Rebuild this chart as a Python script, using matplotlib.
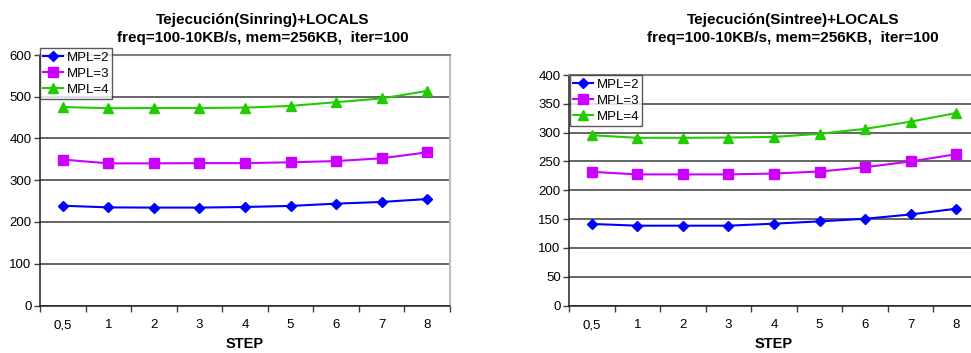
import matplotlib.pyplot as plt

plt.rcParams['font.family'] = ['Liberation Sans', 'DejaVu Sans']

# Step values on the x axis (category axis)
steps = ['0,5', '1', '2', '3', '4', '5', '6', '7', '8']
series_names = ['MPL=2', 'MPL=3', 'MPL=4']

# Tejecucion with Sinring
ring_mpl2 = [239, 235, 234.5, 234.5, 236, 238.5, 244, 248, 255]
ring_mpl3 = [349.5, 340.5, 340.5, 341, 341, 343, 346, 352.5, 367]
ring_mpl4 = [475.5, 472.5, 473, 473, 474, 478, 487, 496, 514]

# Tejecucion with Sintree
tree_mpl2 = [141.5, 138.5, 138.5, 138.5, 142, 146, 150.5, 158, 168]
tree_mpl3 = [232, 227.5, 227.5, 227.5, 229, 232.5, 240, 250, 262.5]
tree_mpl4 = [295.5, 291, 291, 291.5, 292.5, 298, 306.5, 319, 334]

colors = ['#0000FF', '#CC00FF', '#22CC00']
markers = ['D', 's', '^']
msizes = [5, 7, 7.5]

W, H = 971, 353
fig = plt.figure(figsize=(W / 100, H / 100), dpi=100)


def draw_panel(ax_rect, series, ymax, ystep, title, title_x, legend_box, step_x):
	ax = fig.add_axes(ax_rect)
	x = list(range(len(steps)))
	lines = []
	for vals, c, m, ms in zip(series, colors, markers, msizes):
		ln, = ax.plot(x, vals, color=c, marker=m, markersize=ms, linewidth=1.5,
			markeredgecolor=c, clip_on=False, zorder=3)
		lines.append(ln)
	ax.set_xlim(-0.5, len(steps) - 0.5)
	ax.set_ylim(0, ymax)
	ax.set_yticks(range(0, ymax + 1, ystep))
	ax.set_xticks(x)
	ax.set_xticklabels(steps)
	# tick marks sit between the categories
	ax.set_xticks([i - 0.5 for i in range(len(steps) + 1)], minor=True)
	ax.tick_params(axis='x', which='major', length=0, pad=10, labelsize=9.5)
	ax.tick_params(axis='x', which='minor', length=4, width=1, color='#404040')
	ax.tick_params(axis='y', length=4, width=1, color='#404040', labelsize=9.5, pad=2)
	ax.yaxis.grid(True, color='#3a3a3a', linewidth=1.1)
	ax.set_axisbelow(True)
	ax.spines['right'].set_color('#b8c0c0')
	ax.spines['top'].set_color('#808080')
	for s in ['top', 'right']:
		ax.spines[s].set_linewidth(1.5)
	for s in ['left', 'bottom']:
		ax.spines[s].set_color('#202020')
		ax.spines[s].set_linewidth(1.1)
	fig.text(title_x, 1 - 29 / H, title, ha='center', va='center',
		fontsize=11, fontweight='bold', linespacing=1.3)
	fig.text(step_x, 1 - 344 / H, 'STEP', ha='center', va='center',
		fontsize=10.5, fontweight='bold')
	leg = fig.legend(lines, series_names, loc='upper left',
		bbox_to_anchor=legend_box, bbox_transform=fig.transFigure,
		frameon=True, fancybox=False, fontsize=9.5, handlelength=1.5,
		handletextpad=0.25, borderpad=0.25, labelspacing=0.3,
		borderaxespad=0)
	leg.get_frame().set_edgecolor('#303030')
	leg.get_frame().set_linewidth(1.0)
	return ax


ring_title = 'Tejecución(Sinring)+LOCALS\nfreq=100-10KB/s, mem=256KB,  iter=100'
tree_title = 'Tejecución(Sintree)+LOCALS\nfreq=100-10KB/s, mem=256KB,  iter=100'

draw_panel([40 / W, 1 - 305.5 / H, 410 / W, 250.5 / H],
	[ring_mpl2, ring_mpl3, ring_mpl4], 600, 100, ring_title, 263 / W,
	(40 / W, 1 - 48 / H), 245 / W)
draw_panel([569 / W, 1 - 305.5 / H, 410 / W, 230.5 / H],
	[tree_mpl2, tree_mpl3, tree_mpl4], 400, 50, tree_title, 793 / W,
	(570 / W, 1 - 75 / H), 774 / W)

fig.savefig('out.png', dpi=100)
